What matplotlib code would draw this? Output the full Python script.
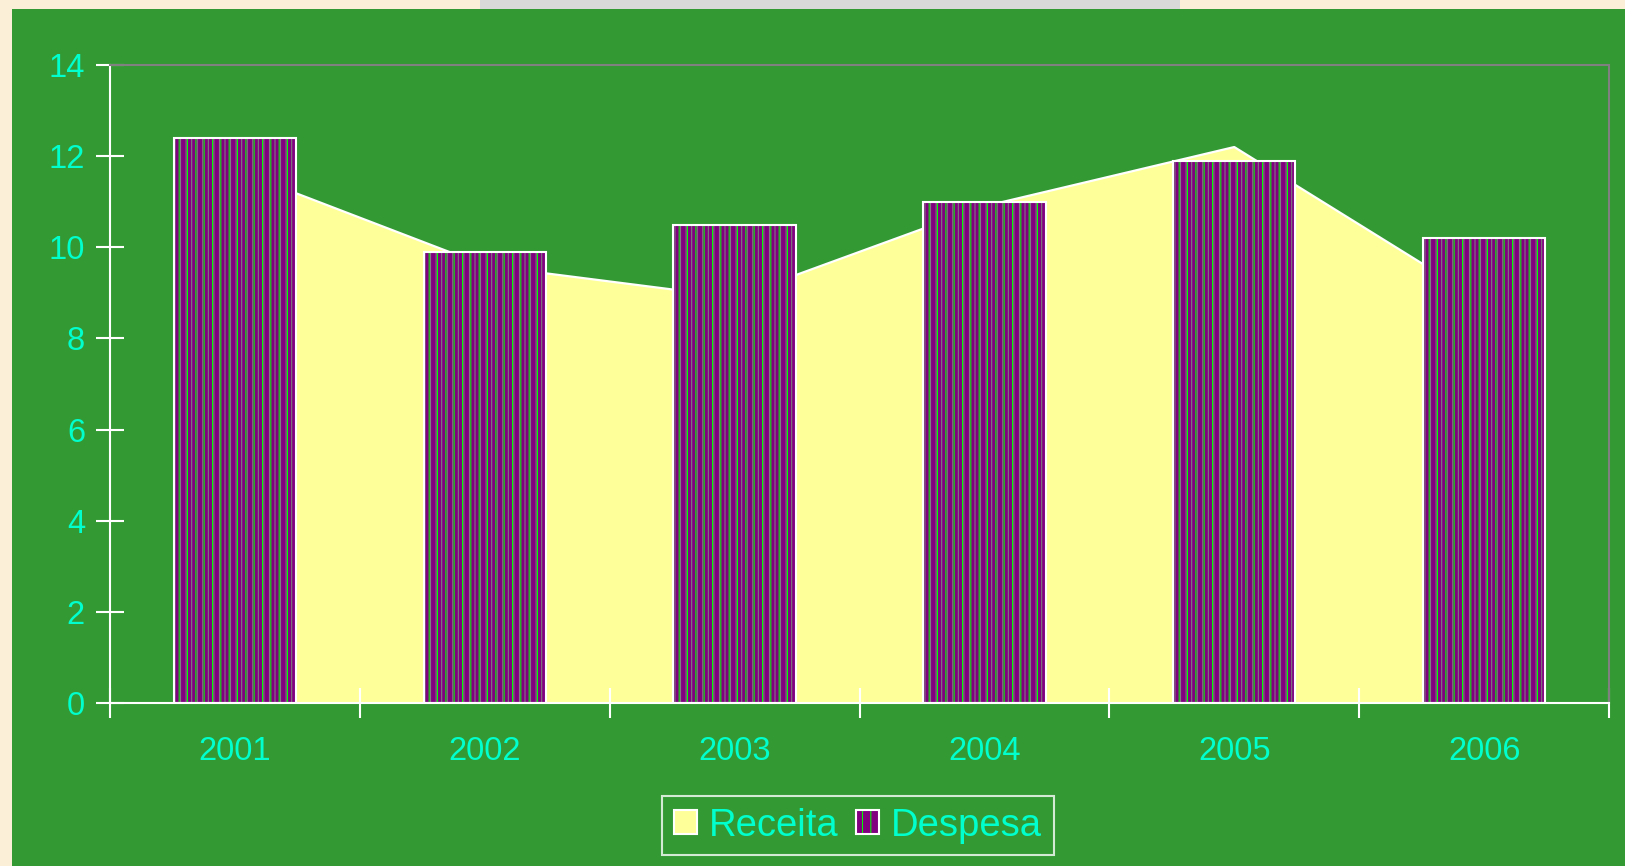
import matplotlib
matplotlib.use("Agg")
import matplotlib.pyplot as plt
from matplotlib.patches import Rectangle, Patch
from matplotlib.legend_handler import HandlerTuple
import numpy as np

years = ["2001", "2002", "2003", "2004", "2005", "2006"]
receita = [11.7, 9.6, 8.9, 10.9, 12.2, 8.8]
despesa = [12.4, 9.9, 10.5, 11.0, 11.9, 10.2]
yticks = [0, 2, 4, 6, 8, 10, 12, 14]

GREEN = "#339933"
YELLOW = "#FFFF99"
PURPLE = "#800080"
HGRAY = "#808080"
HGREEN = "#00FF00"
TXT = "#00FFCC"

plt.rcParams['font.family'] = ['Liberation Sans', 'DejaVu Sans']
plt.rcParams['hatch.linewidth'] = 0.75

W, H = 1625, 866
fig = plt.figure(figsize=(W / 100, H / 100), dpi=100)
fig.patch.set_facecolor("#FCEFD8")
fig.add_artist(Rectangle((480 / W, 1 - 9 / H), 700 / W, 9 / H, transform=fig.transFigure,
                         facecolor="#D9D9D9", edgecolor="none", zorder=0))
fig.add_artist(Rectangle((12 / W, 0), 1 - 12 / W, 1 - 9 / H, transform=fig.transFigure,
                         facecolor=GREEN, edgecolor="none", zorder=0))

left, right, top, bottom = 110, 1609, 65, 703
ax = fig.add_axes([left / W, (H - bottom) / H, (right - left) / W, (bottom - top) / H])
ax.set_facecolor(GREEN)
ax.patch.set_alpha(0)

x = np.arange(len(years)) + 0.5
ax.fill_between(x, 0, receita, facecolor=YELLOW, edgecolor="none", zorder=1)
ax.plot(x, receita, color="white", lw=1.6, zorder=1.5)

bw = 0.49
ax.bar(x, despesa, width=bw, color=PURPLE, edgecolor=HGRAY, linewidth=0,
       hatch="|||", zorder=2)
ax.bar(x, despesa, width=bw, facecolor="none", edgecolor=HGREEN, linewidth=0,
       hatch="||", zorder=2.1)
ax.bar(x, despesa, width=bw, facecolor="none", edgecolor="white", linewidth=1.5, zorder=2.2)

ax.set_xlim(0, len(years))
ax.set_ylim(0, 14)
ax.set_yticks(yticks)
ax.set_yticklabels([str(v) for v in yticks])
ax.set_xticks(np.arange(len(years) + 1))
ax.set_xticklabels([])
ax.set_xticks(x, minor=True)
ax.set_xticklabels(years, minor=True)

ax.tick_params(axis='y', which='major', direction='inout', length=20, width=1.5,
               color='white', labelcolor=TXT, labelsize=23.5, pad=8)
ax.tick_params(axis='x', which='major', direction='inout', length=21, width=1.5,
               color='white')
ax.tick_params(axis='x', which='minor', length=0, labelcolor=TXT, labelsize=23.5, pad=24)

for s in ['left', 'bottom']:
    ax.spines[s].set_color('white')
    ax.spines[s].set_linewidth(1.5)
for s in ['top', 'right']:
    ax.spines[s].set_color('#808080')
    ax.spines[s].set_linewidth(1.5)
ax.spines['bottom'].set_zorder(3)

h1 = Patch(facecolor=YELLOW, edgecolor='white', linewidth=1.5)
h2a = Patch(facecolor=PURPLE, edgecolor=HGREEN, linewidth=0, hatch='||')
h2b = Patch(facecolor='none', edgecolor='white', linewidth=1.5)
leg = fig.legend(handles=[h1, (h2a, h2b)], labels=['Receita', 'Despesa'],
                 handler_map={tuple: HandlerTuple(ndivide=1, pad=0)},
                 loc='center', bbox_to_anchor=(858 / W, 40.5 / H),
                 ncol=2, frameon=True, fancybox=False, shadow=False,
                 prop={'size': 27.5}, handlelength=0.6, handleheight=0.6,
                 handletextpad=0.32, columnspacing=0.45, borderpad=0.3,
                 borderaxespad=0)
leg.get_frame().set_facecolor(GREEN)
leg.get_frame().set_edgecolor('white')
leg.get_frame().set_linewidth(1.5)
for t in leg.get_texts():
    t.set_color(TXT)

fig.savefig("out.png", dpi=100, facecolor=fig.get_facecolor())
